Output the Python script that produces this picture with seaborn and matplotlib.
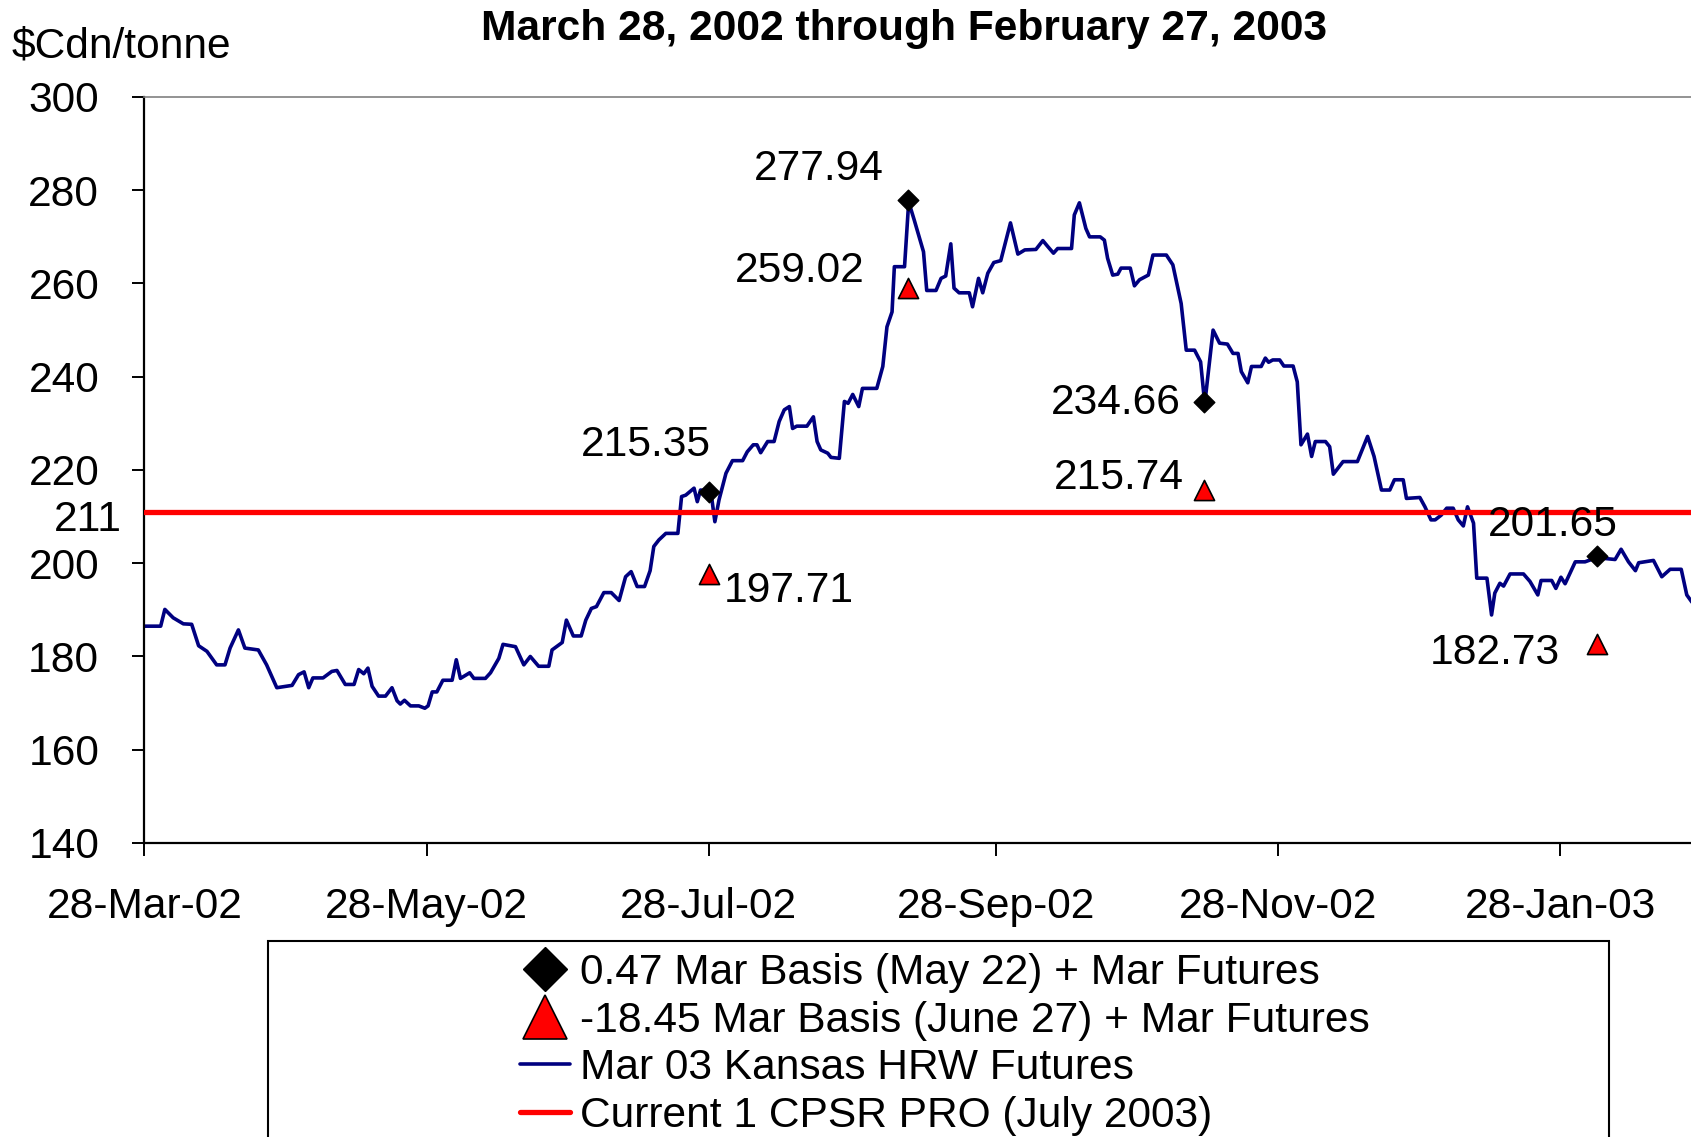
import numpy as np
import pandas as pd
import matplotlib
matplotlib.use('Agg')
import matplotlib.pyplot as plt
import matplotlib.dates as mdates
from matplotlib.lines import Line2D
from matplotlib.patches import Rectangle
import seaborn as sns

# ---- data ----
start_date = pd.Timestamp('2002-03-28')

# calendar days after 28-Mar-02 for each turning point of the futures line
futures_days = [
    0, 3.5, 4.4, 6.2, 8.4, 10.2, 11.7, 13.5, 15.6, 17.4, 18.5, 20.3, 21.7, 24.6, 26.4, 28.6,
    31.9, 33.3, 34.5, 35.5, 36.4, 38.6, 40.5, 41.6, 43.4, 45.3, 46.3, 47.4, 48.3, 49.2, 50.6,
    52.1, 53.5, 54.6, 55.3, 56.2, 57.5, 59.3, 60.6, 61.3, 62.2, 63.2, 64.5, 66.5, 67.4, 68.3,
    70.3, 71.2, 73.7, 74.8, 76.6, 77.5, 80.2, 82.0, 83.4, 85.2, 87.4, 88.1, 90.3, 91.2,
    92.7, 94.4, 95.4, 96.6, 97.7, 99.3, 100.9, 102.6, 104.0, 105.2, 106.5, 108.1, 109.3,
    110.1, 111.2, 112.7, 115.3, 116.1, 117.0, 118.8, 119.5, 120.2, 121.7, 122.5, 123.3,
    124.2, 125.7, 127.1, 129.3, 130.3, 131.6, 132.4, 133.2, 134.7, 136.1, 137.2, 138.3,
    139.4, 140.1, 141.0, 143.2, 144.6, 145.4, 146.2, 147.7, 148.4, 150.2, 151.3, 152.1,
    153.1, 154.4, 155.2, 158.3, 159.6, 160.5, 161.6, 162.1, 164.3, 165.2, 166.4, 168.4,
    169.1, 171.1, 172.2, 173.2, 174.3, 175.0, 176.1, 178.3, 179.0, 180.3, 181.2, 182.3,
    183.6, 185.1, 187.2, 188.8, 190.3, 192.7, 194.2, 195.2, 196.5, 197.4, 200.4, 201.0,
    202.1, 203.5, 204.3, 206.6, 207.5, 208.2, 209.3, 210.4, 211.1, 213.1, 214.0, 215.1,
    217.0, 218.0, 220.9, 222.3, 224.1, 225.2, 227.0, 228.3, 229.2, 231.0, 232.4, 234.1,
    235.3, 236.4, 237.1, 238.5, 239.3, 241.4, 242.3, 243.0, 243.9, 245.4, 246.3, 248.3,
    249.2, 250.0, 251.4, 252.3, 253.1, 255.3, 256.2, 257.0, 259.1, 262.2, 264.4, 265.8,
    267.4, 269.2, 270.2, 272.1, 272.8, 275.7, 276.8, 278.1, 279.0, 280.3, 281.5, 282.9,
    284.0, 285.1, 286.0, 287.3, 288.0, 290.2, 291.2, 291.9, 293.0, 293.8, 295.2, 298.1,
    299.5, 301.2, 301.9, 304.2, 305.1, 306.2, 307.1, 309.3, 311.4, 313.9, 317.9, 319.2,
    320.8, 322.3, 323.0, 326.2, 328.0, 329.8, 332.2, 333.4, 334.7, 336.0,
]
futures_price = [
    186.5, 186.5, 190.1, 188.3, 187.0, 186.9, 182.3, 181.1, 178.2, 178.2, 181.8, 185.7, 181.8,
    181.4, 178.2, 173.3, 173.8, 176.1, 176.7, 173.3, 175.4, 175.4, 176.8, 177.0, 174.0, 174.0,
    177.2, 176.3, 177.5, 173.6, 171.5, 171.5, 173.3, 170.5, 169.8, 170.6, 169.4, 169.4, 168.9,
    169.4, 172.4, 172.4, 174.9, 174.9, 179.3, 175.3, 176.5, 175.3, 175.3, 176.5, 179.6, 182.6,
    182.1, 178.2, 180.0, 177.9, 177.9, 181.4, 183.0, 187.8,
    184.4, 184.4, 187.8, 190.3, 190.7, 193.7, 193.7, 192.0, 197.1, 198.2, 195.0, 195.0, 198.4,
    203.6, 205.0, 206.4, 206.4, 214.3, 214.6, 216.1, 213.2, 215.7, 215.5, 214.9, 208.9,
    213.6, 219.3, 222.0, 222.0, 223.9, 225.4, 225.4, 223.7, 226.1, 226.1, 230.4, 232.9,
    233.6, 228.9, 229.4, 229.4, 231.4, 226.1, 224.3, 223.6, 222.7, 222.5, 234.7, 234.3,
    236.2, 233.6, 237.5, 237.5, 242.2, 250.7, 253.9, 263.6, 263.6, 277.5, 273.6, 266.8,
    258.5, 258.5, 261.1, 261.6, 268.5, 259.0, 258.0, 258.0, 255.0, 261.1, 258.0, 262.2,
    264.5, 264.9, 273.0, 266.3, 267.2, 267.3, 269.2, 268.0, 266.5, 267.5, 267.5, 274.7,
    277.3, 271.8, 270.0, 270.0, 269.3, 265.4, 261.8, 262.0, 263.3, 263.3, 259.5, 260.8,
    261.8, 266.1, 266.1, 264.0, 255.7, 245.7, 245.7, 243.2, 234.2, 250.0, 247.2, 247.0,
    245.0, 245.0, 241.1, 238.7, 242.2, 242.2, 244.0, 243.1, 243.6, 243.6, 242.3, 242.3,
    238.9, 225.4, 227.7, 222.9, 226.1, 226.1, 225.0, 219.1, 221.8, 221.8, 227.2, 222.9,
    215.7, 215.7, 217.9, 217.9, 213.9, 214.1, 212.1, 209.3, 209.3, 210.3, 211.8, 211.8,
    209.3, 208.0, 212.1, 208.6, 196.8, 196.8, 188.9, 193.6, 195.7, 195.1, 197.7, 197.7,
    196.1, 193.2, 196.3, 196.3, 194.6, 197.0, 195.6, 200.3, 200.3, 201.2, 200.8, 203.0,
    200.3, 198.4, 200.1, 200.6, 197.1, 198.7, 198.7, 193.2, 191.4, 190.0,
]

cpsr_price = 211

# Jul 28, Sep 9, Nov 12, Feb 5
marker_days = [122, 165, 229, 314]
basis_may22_price = [215.35, 277.94, 234.66, 201.65]
basis_jun27_price = [197.71, 259.02, 215.74, 182.73]

y_ticks = [140, 160, 180, 200, 220, 240, 260, 280, 300]
n_x_ticks = 6
axis_days = 337

title = 'March 28, 2002 through February 27, 2003'
y_title = '$Cdn/tonne'
legend_labels = ['0.47 Mar Basis (May 22) + Mar Futures',
                 '-18.45 Mar Basis (June 27) + Mar Futures',
                 'Mar 03 Kansas HRW Futures',
                 'Current 1 CPSR PRO (July 2003)']

# label offsets from their marker, in pixels (x right, y up)
may22_offsets = [(-63, 47), (-89, 31), (-88, -1), (-44, 31)]
jun27_offsets = [(80, -17), (-108, 17), (-85, 12), (-102, -9)]

# ---- build the figure ----
sns.set_style('white')
plt.rcParams['font.family'] = ['Liberation Sans', 'DejaVu Sans']
plt.rcParams['text.color'] = 'black'
plt.rcParams['axes.labelcolor'] = 'black'
plt.rcParams['xtick.color'] = 'black'
plt.rcParams['ytick.color'] = 'black'
FS = 30.6
PX = 0.72  # points per pixel at dpi 100

fut = pd.DataFrame({'date': start_date + pd.to_timedelta(futures_days, unit='D'),
                    'price': futures_price})
mk_dates = start_date + pd.to_timedelta(marker_days, unit='D')

fig = plt.figure(figsize=(16.91, 11.37), dpi=100)
ax = fig.add_axes([0.08545, 0.2586, 0.9219, 0.6561])

navy = '#000080'
sns.lineplot(data=fut, x='date', y='price', ax=ax, color=navy, linewidth=2.6,
             legend=False, zorder=2)
ax.axhline(cpsr_price, color='red', lw=3.8, zorder=3)
sns.scatterplot(x=mk_dates, y=basis_may22_price, ax=ax, marker='D', s=110,
                color='black', edgecolor='black', linewidth=1, zorder=5, legend=False)
sns.scatterplot(x=mk_dates, y=basis_jun27_price, ax=ax, marker='^', s=210,
                color='red', edgecolor='black', linewidth=1.2, zorder=5, legend=False)

for d, v, (dx, dy) in zip(mk_dates, basis_may22_price, may22_offsets):
    ax.annotate(f'{v:.2f}', xy=(d, v), xytext=(dx * PX, dy * PX),
                textcoords='offset points', ha='center', va='center', fontsize=FS)
for d, v, (dx, dy) in zip(mk_dates, basis_jun27_price, jun27_offsets):
    ax.annotate(f'{v:.2f}', xy=(d, v), xytext=(dx * PX, dy * PX),
                textcoords='offset points', ha='center', va='center', fontsize=FS)

ax.annotate(str(cpsr_price), xy=(0, cpsr_price), xycoords=('axes fraction', 'data'),
            xytext=(-23 * PX, -8 * PX), textcoords='offset points',
            ha='right', va='center', fontsize=FS)

ax.set_ylim(y_ticks[0], y_ticks[-1])
ax.set_yticks(y_ticks)
ax.set_xlim(start_date, start_date + pd.Timedelta(days=axis_days))
x_ticks = [start_date + pd.DateOffset(months=2 * i) for i in range(n_x_ticks)]
ax.set_xticks(x_ticks)
ax.xaxis.set_major_formatter(mdates.DateFormatter('%d-%b-%y'))
ax.set_xlabel('')
ax.set_ylabel('')

ax.tick_params(axis='y', direction='out', length=8.6, width=1.4, pad=24,
               labelsize=FS, left=True, colors='black')
ax.tick_params(axis='x', direction='out', length=9.5, width=1.4, pad=22.5,
               labelsize=FS, bottom=True, colors='black')
for s in ['left', 'bottom']:
    ax.spines[s].set_color('black')
    ax.spines[s].set_linewidth(1.6)
ax.spines['top'].set_color('#808080')
ax.spines['top'].set_linewidth(1.2)
ax.spines['right'].set_visible(False)

fig.text(904 / 1691, 1 - 29 / 1137, title, ha='center', va='center',
         fontsize=FS, fontweight='bold')
fig.text(12 / 1691, 1 - 46 / 1137, y_title, ha='left', va='center', fontsize=FS)

# legend box (wider than its content, runs off the bottom)
fig.patches.append(Rectangle((268 / 1691, -0.05), 1341 / 1691, 0.05 + 1 - 941 / 1137,
                             transform=fig.transFigure, fill=False,
                             edgecolor='black', linewidth=1.5))
handles = [
    Line2D([], [], marker='D', color='black', markersize=22, linestyle='none',
           markeredgecolor='black'),
    Line2D([], [], marker='^', markerfacecolor='red', markeredgecolor='black',
           markersize=31, linestyle='none', markeredgewidth=1.2),
    Line2D([], [], color=navy, lw=2.6),
    Line2D([], [], color='red', lw=3.8),
]
fig.legend(handles, legend_labels, loc='upper left',
           bbox_to_anchor=(520 / 1691, 1 - 953 / 1137), frameon=False,
           fontsize=FS, handlelength=1.18, handletextpad=0.24,
           labelspacing=0.18, borderpad=0, borderaxespad=0)

fig.savefig('out.png', dpi=100)
